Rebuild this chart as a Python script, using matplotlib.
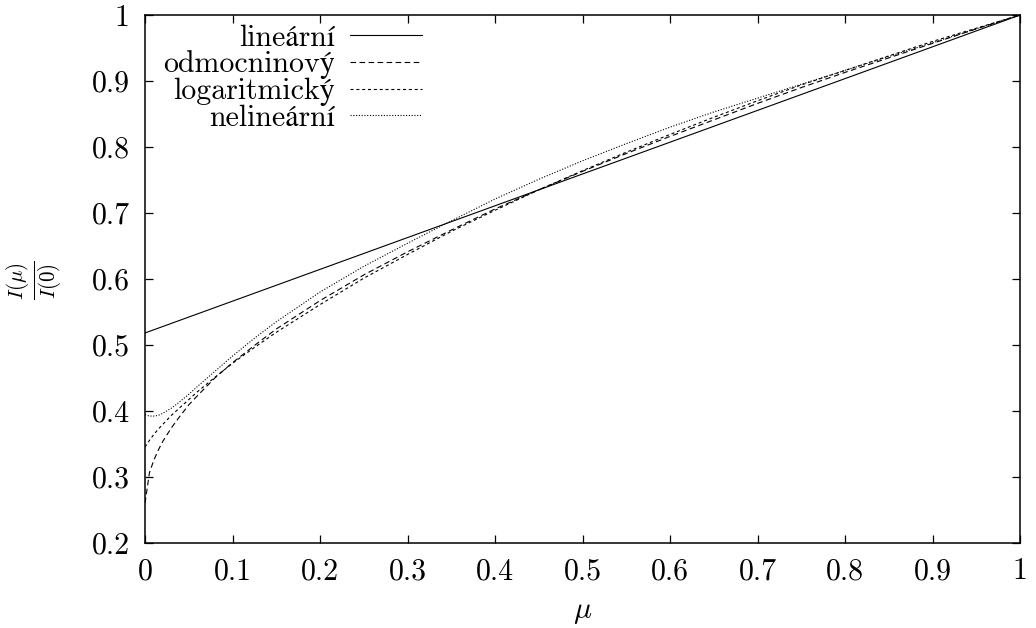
import matplotlib
matplotlib.use('Agg')
import matplotlib.pyplot as plt

plt.rcParams['font.family'] = ['cmr10', 'STIXGeneral']
plt.rcParams['mathtext.fontset'] = 'cm'
plt.rcParams['axes.formatter.use_mathtext'] = True
plt.rcParams['lines.scale_dashes'] = False

# Sample points of the cosine of the angle mu
mu = [0.0, 0.005, 0.01, 0.015, 0.02, 0.03, 0.04, 0.05, 0.06, 0.08,
      0.1, 0.125, 0.15, 0.2, 0.25, 0.3, 0.35, 0.4, 0.45, 0.5,
      0.55, 0.6, 0.65, 0.7, 0.75, 0.8, 0.85, 0.9, 0.95, 1.0]

# Linear law
mu_linear = [0.0, 1.0]
I_linear = [0.518, 1.0]

# Square-root law
I_sqrt = [0.260, 0.306, 0.325, 0.340, 0.353, 0.374, 0.392, 0.409, 0.423, 0.450,
          0.473, 0.499, 0.524, 0.567, 0.606, 0.641, 0.674, 0.706, 0.735, 0.763,
          0.790, 0.816, 0.841, 0.866, 0.890, 0.913, 0.935, 0.957, 0.979, 1.0]

# Logarithmic law
I_log = [0.345, 0.355, 0.364, 0.372, 0.379, 0.393, 0.405, 0.417, 0.429, 0.451,
         0.472, 0.496, 0.519, 0.561, 0.601, 0.637, 0.672, 0.704, 0.735, 0.764,
         0.792, 0.819, 0.845, 0.870, 0.894, 0.916, 0.938, 0.960, 0.980, 1.0]

# Non-linear (four-coefficient) law
I_nonlin = [0.394, 0.392, 0.392, 0.393, 0.396, 0.404, 0.414, 0.425, 0.437, 0.460,
            0.483, 0.510, 0.535, 0.580, 0.619, 0.654, 0.688, 0.721, 0.751, 0.779,
            0.805, 0.830, 0.853, 0.874, 0.895, 0.916, 0.937, 0.958, 0.979, 1.0]

labels = ['lineární', 'odmocninový', 'logaritmický', 'nelineární']

x_ticks = [0.0, 0.1, 0.2, 0.3, 0.4, 0.5, 0.6, 0.7, 0.8, 0.9, 1.0]
x_tick_labels = ['0', '0.1', '0.2', '0.3', '0.4', '0.5', '0.6', '0.7', '0.8', '0.9', '1']
y_ticks = [0.2, 0.3, 0.4, 0.5, 0.6, 0.7, 0.8, 0.9, 1.0]
y_tick_labels = ['0.2', '0.3', '0.4', '0.5', '0.6', '0.7', '0.8', '0.9', '1']

FS = 21.5
LW = 0.8

fig = plt.figure(figsize=(10.36, 6.28), dpi=100)
ax = fig.add_axes([0.14, 0.1358, 0.8446, 0.8403])

ax.plot(mu_linear, I_linear, color='black', lw=LW, linestyle='-', label=labels[0])
ax.plot(mu, I_sqrt, color='black', lw=LW, linestyle=(0, (4.0, 2.5)), label=labels[1])
ax.plot(mu, I_log, color='black', lw=LW, linestyle=(0, (2.2, 2.0)), label=labels[2])
ax.plot(mu, I_nonlin, color='black', lw=LW, linestyle=(0, (0.8, 1.2)), label=labels[3])

ax.set_xlim(0, 1)
ax.set_ylim(0.2, 1)
ax.set_xticks(x_ticks)
ax.set_xticklabels(x_tick_labels)
ax.set_yticks(y_ticks)
ax.set_yticklabels(y_tick_labels)
ax.tick_params(direction='in', top=True, right=True, length=6, width=0.9,
               labelsize=FS, pad=11)
for s in ax.spines.values():
    s.set_linewidth(1.1)

ax.set_xlabel(r'$\mu$', fontsize=FS)
ax.xaxis.set_label_coords(0.5, -0.105)
ax.set_ylabel(r'$\frac{I(\mu)}{I(0)}$', fontsize=FS, va='center')
ax.yaxis.set_label_coords(-0.126, 0.498)

ax.legend(loc='upper right', bbox_to_anchor=((426 - 145) / 875, 0.991),
          frameon=False, fontsize=FS, markerfirst=False,
          handlelength=2.4, handletextpad=0.5, labelspacing=-0.05,
          borderpad=0.15, borderaxespad=0.0)

fig.savefig('out.png', dpi=100)
